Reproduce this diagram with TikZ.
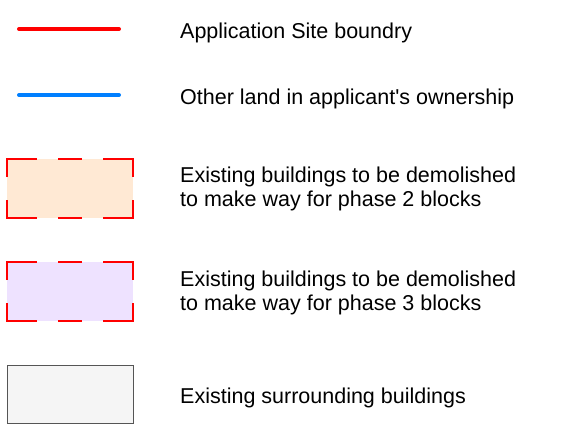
\documentclass[tikz,border=0pt]{standalone}
\usepackage{fontspec}
\setmainfont{Liberation Sans}
\begin{document}
\begin{tikzpicture}[x=1pt,y=-1pt,
  lbl/.style={anchor=west,align=left,inner sep=0pt,font=\fontsize{21.5pt}{24pt}\selectfont},
  legline/.style={line width=4pt,line cap=round},
  dashedge/.style={draw=red,line width=2.2pt,line join=miter,line cap=butt},
]
\definecolor{siteRed}{HTML}{FF0000}
\definecolor{otherBlue}{HTML}{007FFF}
\definecolor{peach}{HTML}{FFE9D4}
\definecolor{lavender}{HTML}{EEE2FF}
\definecolor{greyfill}{HTML}{F5F5F5}
\definecolor{greyline}{HTML}{555555}
\useasboundingbox (0,0) rectangle (586,429);

% line legends
\coordinate (r1) at (19,29); \coordinate (r2) at (119,29);
\draw[legline,siteRed] (r1) -- (r2);
\coordinate (b1) at (19,95); \coordinate (b2) at (119,95);
\draw[legline,otherBlue] (b1) -- (b2);

% phase 2 box
\fill[peach] (7,159) rectangle (133,218);
\draw[dashedge] (7,177)--(7,159)--(37,159) (58,159)--(82,159) (103,159)--(133,159)--(133,177)
  (133,200)--(133,218)--(103,218) (82,218)--(58,218) (37,218)--(7,218)--(7,200);

% phase 3 box
\fill[lavender] (7,262) rectangle (133,321);
\draw[dashedge] (7,280)--(7,262)--(37,262) (58,262)--(82,262) (103,262)--(133,262)--(133,280)
  (133,303)--(133,321)--(103,321) (82,321)--(58,321) (37,321)--(7,321)--(7,303);

% surrounding buildings
\draw[greyline,fill=greyfill,line width=1pt] (7,365) rectangle (133,423);

% labels
\node[lbl] (t1) at (180,33) {Application Site boundry};
\node[lbl] (t2) at (180,99) {Other land in applicant\textquotesingle s ownership};
\node[lbl] (t3) at (180,189) {Existing buildings to be demolished\\to make way for phase 2 blocks};
\node[lbl] (t4) at (180,293) {Existing buildings to be demolished\\to make way for phase 3 blocks};
\node[lbl] (t5) at (180,398) {Existing surrounding buildings};
\end{tikzpicture}
\end{document}
